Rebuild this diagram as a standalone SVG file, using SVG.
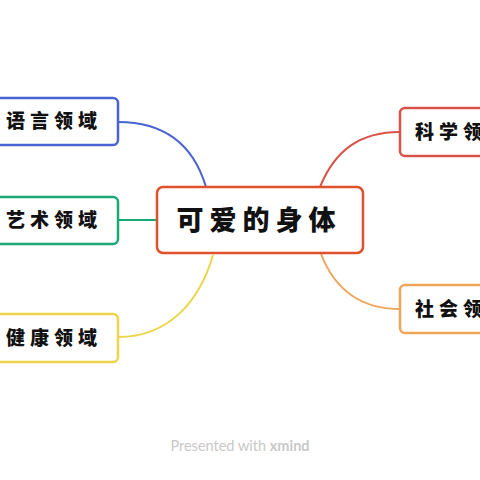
<svg xmlns="http://www.w3.org/2000/svg" width="480" height="480" viewBox="0 0 480 480">
<style>
.box{fill:#fff;stroke-width:2.5}
.t{font-family:"Noto Sans CJK SC","Noto Sans",sans-serif;font-weight:900;font-size:19px;fill:#111;letter-spacing:5px}
.c{fill:none;stroke-width:2}
</style>
<rect width="480" height="480" fill="#fff"/>
<g id="connectors">
<path class="c" stroke="#4a63d3" d="M118,122 C170,122 195,150 206,187"/>
<path class="c" stroke="#1aa874" d="M118,220 L157,220"/>
<path class="c" stroke="#ecd54a" d="M213,255 C200,300 170,337 118,337"/>
<path class="c" stroke="#d9534a" d="M320,187 C335,150 360,132 400,132"/>
<path class="c" stroke="#efa65a" d="M321,254 C335,290 360,309 400,309"/>
</g>
<g id="center">
<rect class="box" x="157" y="187" width="206" height="66" rx="6" stroke="#e0512b" stroke-width="3"/>
<text x="259" y="230" text-anchor="middle" font-family="'Noto Sans CJK SC',sans-serif" font-weight="900" font-size="27" letter-spacing="6" fill="#111">可爱的身体</text>
</g>
<g id="yuyan">
<rect class="box" x="-8" y="98" width="126" height="47" rx="5" stroke="#4a63d3"/>
<text class="t" x="6" y="128">语言领域</text>
</g>
<g id="yishu">
<rect class="box" x="-8" y="197" width="126" height="47" rx="5" stroke="#1aa874"/>
<text class="t" x="6" y="227">艺术领域</text>
</g>
<g id="jiankang">
<rect class="box" x="-8" y="314" width="126" height="48" rx="5" stroke="#ecd54a"/>
<text class="t" x="6" y="345">健康领域</text>
</g>
<g id="kexue">
<rect class="box" x="400" y="108" width="100" height="48" rx="5" stroke="#d9534a"/>
<text class="t" x="415" y="139">科学领域</text>
</g>
<g id="shehui">
<rect class="box" x="400" y="285" width="100" height="48" rx="5" stroke="#efa65a"/>
<text class="t" x="415" y="316">社会领域</text>
</g>
<text x="240" y="451" text-anchor="middle" font-family="Lato,'Open Sans',sans-serif" font-size="14.5" fill="#c8c8c8">Presented with <tspan font-weight="bold">xmind</tspan></text>
</svg>
